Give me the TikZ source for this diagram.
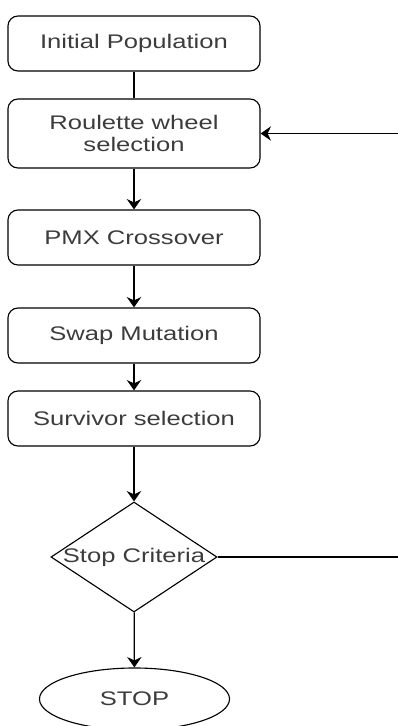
\documentclass[tikz,border=0pt]{standalone}
\usepackage{fontspec}
\setmainfont[FakeStretch=1.3]{Liberation Sans}
\usetikzlibrary{shapes.geometric}
\usetikzlibrary{arrows.meta}
\definecolor{cb}{RGB}{0,0,0}
\definecolor{cbt}{RGB}{60,60,60}
\tikzstyle{stage}=[cbt, draw=cb, line width=0.8pt, rounded corners=0.25cm, minimum width=6.3cm, minimum height=1.375cm, align=center, font=\fontsize{14}{15}\selectfont]
\tikzstyle{check}=[cbt, draw=cb, line width=0.8pt, diamond, inner sep=0pt, minimum width=4.15cm, minimum height=2.75cm, font=\fontsize{14}{15}\selectfont]
\tikzstyle{finish}=[cbt, draw=cb, line width=0.8pt, ellipse, minimum width=4.75cm, minimum height=1.55cm, font=\fontsize{14}{15}\selectfont]
\tikzstyle{link}=[cb, line width=0.9pt]
\tikzstyle{arrow}=[link, -{Stealth[length=2.6mm, width=3.6mm]}]

\begin{document}
\begin{tikzpicture}[x=0.025cm, y=-0.025cm]
  \useasboundingbox (0,0) rectangle (398,726);
  \clip (0,0) rectangle (398,726);
  \node [stage] (init) at (134,43.5) {Initial Population};
  \node [stage, minimum height=1.725cm] (roulette) at (134,133.5) {Roulette wheel\\selection};
  \node [stage] (pmx) at (134,237.5) {PMX Crossover};
  \node [stage] (swap) at (134,335.5) {Swap Mutation};
  \node [stage] (survivor) at (134,418.5) {Survivor selection};
  \node [check] (criteria) at (134,557) {\makebox[0pt]{Stop Criteria}};
  \node [finish] (stop) at (134.5,699) {STOP};
  \coordinate (loop-b) at (420,557);
  \coordinate (loop-t) at (420,133.5);

  \draw [link] (init) -- (roulette);
  \draw [arrow] (roulette) -- (pmx);
  \draw [arrow] (pmx) -- (swap);
  \draw [arrow] (swap) -- (survivor);
  \draw [arrow] (survivor) -- (criteria);
  \draw [arrow] (criteria) -- (stop);
  \draw [arrow] (criteria.east) -- (loop-b) -- (loop-t) -- (roulette.east);
\end{tikzpicture}
\end{document}
